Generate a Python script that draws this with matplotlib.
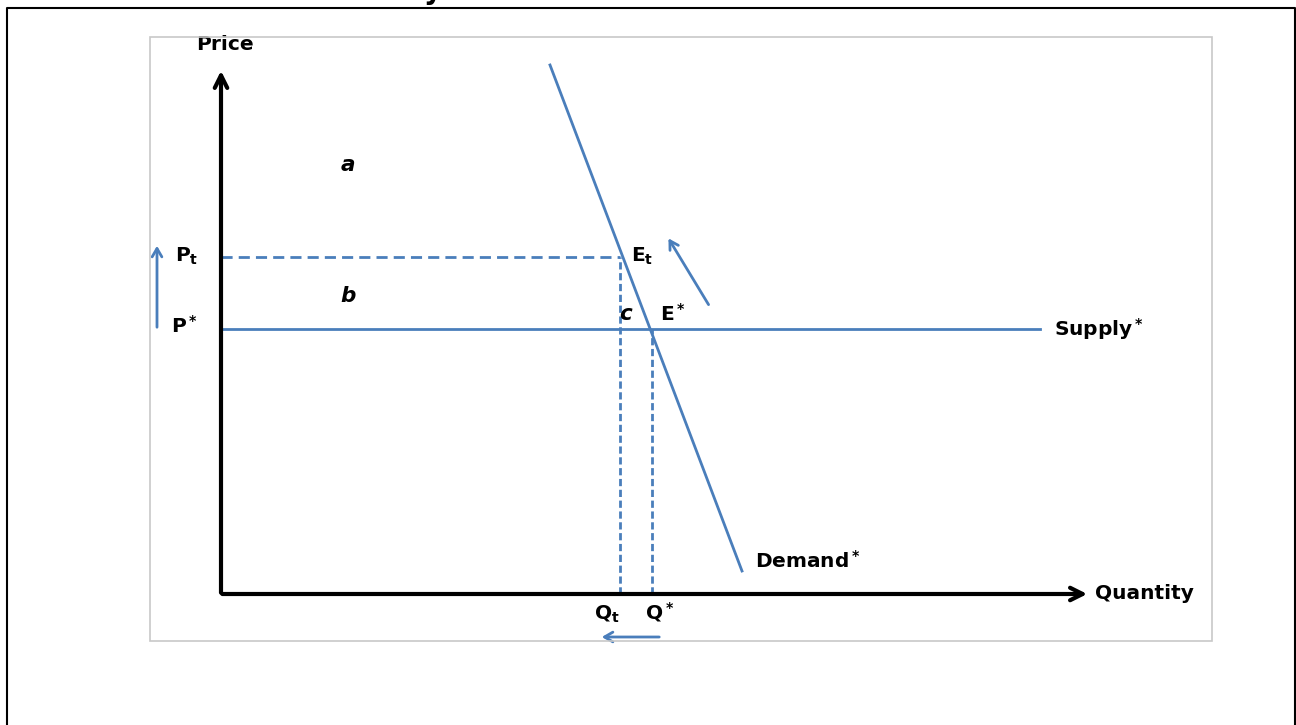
import matplotlib
matplotlib.use("Agg")
from matplotlib import pyplot as plt

plt.rcParams['font.family'] = ['DejaVu Sans']
plt.rcParams['mathtext.fontset'] = 'dejavusans'

blue = '#4A7EBB'
fs = 14.5

# market values (quantity, price) in chart units
p_star = 26.5
p_t = 33.7
q_star = 43.1
q_t = 39.9
supply_q = [0, 81.9]
demand_q = [32.9, 52.1]
demand_p = [52.9, 2.3]
q_axis_end = 86.9
p_axis_end = 52.6

fig = plt.figure(figsize=(12.96, 7.25), dpi=100)
ax = fig.add_axes([0, 0, 1, 1])
ax.set_xlim(-22.1, 107.5)
ax.set_ylim(-13.1, 59.4)
ax.axis('off')

# outer frame (screenshot border) and inner chart frame
fig.add_artist(plt.Line2D([7/1296, 7/1296, 1295/1296, 1295/1296], [0, 1 - 8/725, 1 - 8/725, 0],
                          color='black', lw=1.5))
fig.add_artist(plt.Rectangle((150/1296, 1 - 641/725), 1062/1296, 604/725, fill=False,
                             edgecolor='#c8c8c8', lw=1.2))
fig.text(424/1296, 1 + 1/725, 'y', fontsize=20, fontweight='bold', va='baseline', ha='left')

# axes with arrows
ax.annotate('', xy=(0, p_axis_end), xytext=(0, -0.15),
            arrowprops=dict(arrowstyle='->,head_length=0.9,head_width=0.45', lw=3, color='black'))
ax.annotate('', xy=(q_axis_end, 0), xytext=(-0.15, 0),
            arrowprops=dict(arrowstyle='->,head_length=0.9,head_width=0.45', lw=3, color='black'))
ax.text(0.4, 54.9, 'Price', fontsize=fs, fontweight='bold', ha='center', va='center')
ax.text(q_axis_end + 0.5, 0.05, 'Quantity', fontsize=fs, fontweight='bold', ha='left', va='center')

# supply and demand
ax.plot(supply_q, [p_star, p_star], color=blue, lw=2)
ax.plot(demand_q, demand_p, color=blue, lw=2)
ax.text(supply_q[1] + 1.4, p_star, r'$\mathbf{Supply^*}$', fontsize=fs, ha='left', va='center')
ax.text(demand_q[1] + 1.3, demand_p[1] + 1.0, r'$\mathbf{Demand^*}$', fontsize=fs, ha='left', va='center')

# dashed guides
ax.plot([0, q_t], [p_t, p_t], color=blue, lw=2, ls=(0, (4, 2.2)))
ax.plot([q_t, q_t], [0, p_t], color=blue, lw=2, ls=(0, (2.6, 1.3)))
ax.plot([q_star, q_star], [0, p_star], color=blue, lw=2, ls=(0, (2.6, 1.3)))

# labels
ax.text(-2.3, p_t + 0.1, r'$\mathbf{P_t}$', fontsize=fs, ha='right', va='center')
ax.text(-2.3, p_star + 0.3, r'$\mathbf{P^*}$', fontsize=fs, ha='right', va='center')
ax.text(q_t - 1.3, -2.0, r'$\mathbf{Q_t}$', fontsize=fs, ha='center', va='center')
ax.text(q_star + 0.8, -1.8, r'$\mathbf{Q^*}$', fontsize=fs, ha='center', va='center')
ax.text(q_t + 1.1, p_t + 0.1, r'$\mathbf{E_t}$', fontsize=fs, ha='left', va='center')
ax.text(q_star + 0.8, p_star + 1.5, r'$\mathbf{E^*}$', fontsize=fs, ha='left', va='center')
ax.text(q_t + 0.6, p_star + 1.5, 'c', fontsize=fs + 1, fontweight='bold', style='italic', ha='center', va='center')
ax.text(12.7, 42.9, 'a', fontsize=fs + 1, fontweight='bold', style='italic', ha='center', va='center')
ax.text(12.7, 29.8, 'b', fontsize=fs + 1, fontweight='bold', style='italic', ha='center', va='center')

# change arrows
ax.annotate('', xy=(-6.4, 35.1), xytext=(-6.4, 26.4),
            arrowprops=dict(arrowstyle='->,head_length=0.6,head_width=0.35', lw=2, color=blue))
ax.annotate('', xy=(44.6, 35.8), xytext=(48.9, 28.7),
            arrowprops=dict(arrowstyle='->,head_length=0.6,head_width=0.35', lw=2, color=blue))
ax.annotate('', xy=(37.8, -4.3), xytext=(44.1, -4.3),
            arrowprops=dict(arrowstyle='->,head_length=0.6,head_width=0.35', lw=2, color=blue))

fig.savefig('out.png', dpi=100)
